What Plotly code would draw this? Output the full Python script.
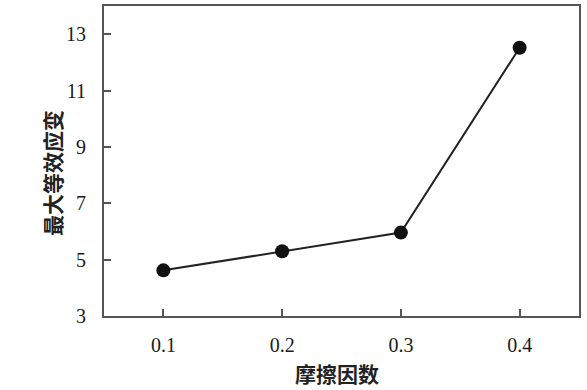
import plotly.graph_objects as go

friction = [0.1, 0.2, 0.3, 0.4]
max_strain = [4.62, 5.30, 5.96, 12.52]
x_ticks = [0.1, 0.2, 0.3, 0.4]
x_tick_labels = ["0.1", "0.2", "0.3", "0.4"]
y_ticks = [3, 5, 7, 9, 11, 13]
y_tick_labels = ["3", "5", "7", "9", "11", "13"]

fig = go.Figure()
fig.add_trace(go.Scatter(
    x=friction, y=max_strain, mode="lines+markers",
    line=dict(color="#222222", width=2),
    marker=dict(color="#111111", size=14),
    showlegend=False,
))

axis_common = dict(
    showline=True, mirror=True, linecolor="#555555", linewidth=2,
    ticks="inside", tickcolor="#555555", ticklen=7, tickwidth=1.5,
    showgrid=False, zeroline=False,
    tickfont=dict(family="Liberation Serif", size=20, color="#1a1a1a"),
)

fig.update_layout(
    width=587, height=390,
    margin=dict(l=104, r=8, t=4, b=74),
    paper_bgcolor="white", plot_bgcolor="white",
    xaxis=dict(range=[0.05, 0.45], tickvals=x_ticks, ticktext=x_tick_labels,
               ticklabelstandoff=10, **axis_common),
    yaxis=dict(range=[3, 14], tickvals=y_ticks, ticktext=y_tick_labels,
               ticklabelstandoff=12, **axis_common),
    annotations=[
        dict(text="<b>摩擦因数</b>", xref="paper", yref="paper", x=0.49, y=-0.185,
             xanchor="center", yanchor="middle", showarrow=False,
             font=dict(family="Noto Sans CJK SC", size=21, color="#222222")),
        dict(text="<b>最大等效应变</b>", xref="paper", yref="paper", x=-0.108, y=0.46,
             xanchor="center", yanchor="middle", showarrow=False, textangle=-90,
             font=dict(family="Noto Sans CJK SC", size=21, color="#222222")),
    ],
)

fig.write_html("out.html")
